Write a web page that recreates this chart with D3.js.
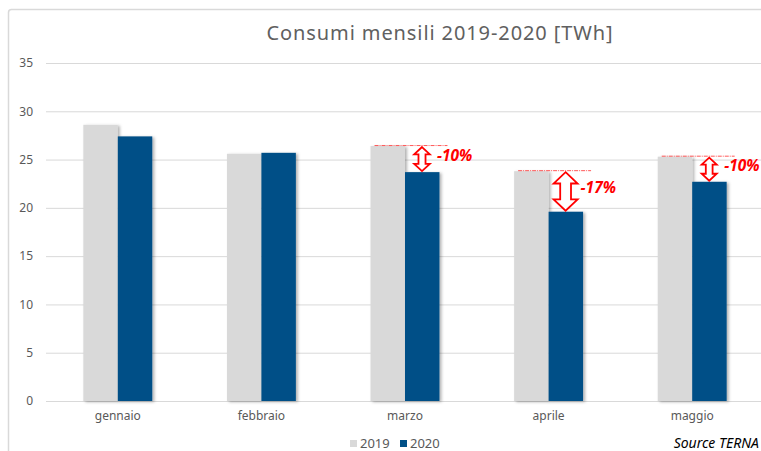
<!DOCTYPE html>
<html>
<head>
<meta charset="utf-8">
<script src="https://cdn.jsdelivr.net/npm/d3@7"></script>
<style>
  body { margin: 0; background: #fff; }
  svg { display: block; font-family: 'Noto Sans', sans-serif; }
</style>
</head>
<body>
<svg></svg>
<script>
// data
const months = ['gennaio', 'febbraio', 'marzo', 'aprile', 'maggio']
const series = ['2019', '2020']
const values2019 = [28.6, 25.6, 26.4, 23.8, 25.3]
const values2020 = [27.4, 25.7, 23.7, 19.6, 22.7]
const yTicks = [0, 5, 10, 15, 20, 25, 30, 35]
const deltaMonths = ['marzo', 'aprile', 'maggio']
const deltaLabels = ['-10%', '-17%', '-10%']
const colors = { '2019': '#d9d9d9', '2020': '#005087' }

const width = 761
const height = 451
const svg = d3.select('svg').attr('width', width).attr('height', height)

const defs = svg.append('defs')
const shadow = defs.append('filter').attr('id', 'shadow')
    .attr('x', '-20%').attr('y', '-5%').attr('width', '150%').attr('height', '115%')
shadow.append('feDropShadow')
    .attr('dx', 2).attr('dy', 1).attr('stdDeviation', 1.4)
    .attr('flood-color', '#000').attr('flood-opacity', 0.3)

// outer frame
svg.append('rect')
    .attr('x', 8.5).attr('y', 9.5)
    .attr('width', 780).attr('height', 470)
    .attr('rx', 3)
    .attr('fill', 'none').attr('stroke', '#d9d9d9').attr('stroke-width', 1.5)

const xScale = d3.scaleBand()
    .domain(months)
    .range([46, 764])
    .paddingInner(0.52)
    .paddingOuter(0.26)
const xSub = d3.scaleBand()
    .domain(series)
    .range([0, xScale.bandwidth()])
const yScale = d3.scaleLinear()
    .domain([0, 35])
    .range([401, 63])

// title
svg.append('text')
    .attr('x', 440).attr('y', 40)
    .attr('text-anchor', 'middle')
    .attr('font-size', 20)
    .attr('letter-spacing', 0.9)
    .attr('fill', '#606060')
    .text('Consumi mensili 2019-2020 [TWh]')

// grid + y axis
const yAxis = d3.axisLeft(yScale)
    .tickValues(yTicks)
    .tickSize(-(width - 46))
    .tickPadding(13)
const gy = svg.append('g')
    .attr('transform', 'translate(46,0)')
    .call(yAxis)
gy.select('.domain').remove()
gy.selectAll('.tick line').attr('stroke', '#d9d9d9').attr('stroke-width', 1)
gy.selectAll('.tick text').attr('fill', '#595959').attr('font-size', 12)
    .attr('font-family', "'Noto Sans', sans-serif")

// x axis labels
const xAxis = d3.axisBottom(xScale).tickSize(0).tickPadding(10)
const gx = svg.append('g')
    .attr('transform', 'translate(0,401)')
    .call(xAxis)
gx.select('.domain').remove()
gx.selectAll('.tick text').attr('fill', '#595959').attr('font-size', 12)
    .attr('font-family', "'Noto Sans', sans-serif")

// bars
const rows = months.map((m, i) => ({ month: m, '2019': values2019[i], '2020': values2020[i] }))
const groups = svg.append('g').selectAll('g')
    .data(rows)
    .enter()
    .append('g')
    .attr('transform', (d) => 'translate(' + xScale(d.month) + ',0)')
groups.selectAll('rect')
    .data((d) => series.map((s) => ({ key: s, value: d[s] })))
    .enter()
    .append('rect')
    .attr('x', (d) => xSub(d.key))
    .attr('y', (d) => yScale(d.value))
    .attr('width', xSub.bandwidth())
    .attr('height', (d) => yScale(0) - yScale(d.value))
    .attr('fill', (d) => colors[d.key])
    .attr('filter', 'url(#shadow)')

// delta annotations
const arrowPath = (cx, y0, y1, hw, sw, hh) => {
    return 'M' + cx + ',' + y0 +
        'L' + (cx + hw) + ',' + (y0 + hh) +
        'L' + (cx + sw) + ',' + (y0 + hh) +
        'L' + (cx + sw) + ',' + (y1 - hh) +
        'L' + (cx + hw) + ',' + (y1 - hh) +
        'L' + cx + ',' + y1 +
        'L' + (cx - hw) + ',' + (y1 - hh) +
        'L' + (cx - sw) + ',' + (y1 - hh) +
        'L' + (cx - sw) + ',' + (y0 + hh) +
        'L' + (cx - hw) + ',' + (y0 + hh) + 'Z'
}
const ann = svg.append('g')
deltaMonths.forEach((m, i) => {
    const k = months.indexOf(m)
    const top = yScale(values2019[k])
    const bottom = yScale(values2020[k])
    const x0 = xScale(m) + xSub('2019')
    const x2020 = xScale(m) + xSub('2020')
    const len = bottom - top
    const hw = Math.min(12, len * 0.3)
    const cx = x2020 + 17
    ann.append('line')
        .attr('x1', x0 + 4).attr('x2', x2020 + xSub.bandwidth() + 8)
        .attr('y1', top - 0.5).attr('y2', top - 0.5)
        .attr('stroke', '#ff3030').attr('stroke-width', 1)
        .attr('stroke-dasharray', '4,1,1,1')
        .attr('opacity', 0.8)
    ann.append('path')
        .attr('d', arrowPath(cx, top + 1, bottom - 1, hw, hw * 0.45, Math.min(12, len * 0.28)))
        .attr('fill', '#fff')
        .attr('stroke', '#ff0000')
        .attr('stroke-width', 1.8)
        .attr('stroke-linejoin', 'miter')
    ann.append('text')
        .attr('x', cx + 15)
        .attr('y', (top + bottom) / 2 + 2)
        .attr('fill', '#ff0000')
        .attr('font-size', 15.5)
        .attr('font-weight', 'bold')
        .attr('font-style', 'italic')
        .text(deltaLabels[i])
})

// legend
const legend = svg.append('g').attr('transform', 'translate(350,443)')
series.forEach((s, i) => {
    const g = legend.append('g').attr('transform', 'translate(' + (i * 50) + ',0)')
    g.append('rect').attr('x', 0).attr('y', -3).attr('width', 7).attr('height', 7).attr('fill', colors[s])
    g.append('text').attr('x', 10).attr('y', 0).attr('dy', '0.35em')
        .attr('font-size', 13).attr('fill', '#595959').text(s)
})

svg.append('text')
    .attr('x', 759).attr('y', 443).attr('dy', '0.35em')
    .attr('text-anchor', 'end')
    .attr('font-size', 14)
    .attr('font-style', 'italic')
    .attr('fill', '#000')
    .text('Source TERNA')
</script>
</body>
</html>
